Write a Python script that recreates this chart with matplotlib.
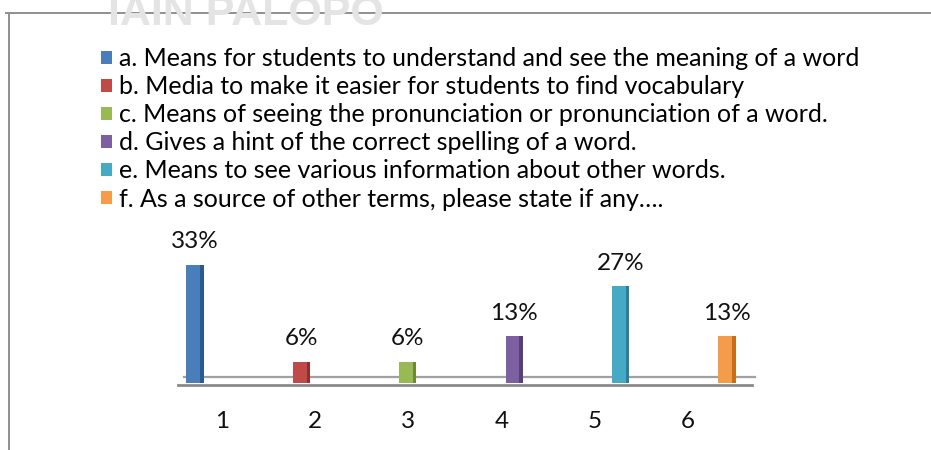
import matplotlib
matplotlib.use("Agg")
import matplotlib.pyplot as plt
from matplotlib.patches import Patch
from matplotlib.lines import Line2D

plt.rcParams['font.family'] = ['Lato', 'DejaVu Sans']

categories = ["1", "2", "3", "4", "5", "6"]
values = [33, 6, 6, 13, 27, 13]
value_labels = ["33%", "6%", "6%", "13%", "27%", "13%"]
legend_labels = [
    "a. Means for students to understand and see the meaning of a word",
    "b. Media to make it easier for students to find vocabulary",
    "c. Means of seeing the pronunciation or pronunciation of a word.",
    "d. Gives a hint of the correct spelling of a word.",
    "e. Means to see various information about other words.",
    "f. As a source of other terms, please state if any\u2026.",
]
colors = ["#4a7ebb", "#be4b48", "#98b954", "#7d60a0", "#46aac5", "#f49c49"]
dark = ["#2c5a8f", "#8e2f2c", "#6d8a33", "#573f78", "#2a7f96", "#c56e1e"]

W, H = 931, 450
fig = plt.figure(figsize=(W / 100, H / 100), dpi=100)

def px_rect(l, t, r, b):
    return [l / W, 1 - b / H, (r - l) / W, (b - t) / H]

# watermark (cut off at the top edge as in the reference)
fig.text(246 / W, 1 - 25 / H, "IAIN PALOPO", ha='center', va='baseline',
         fontsize=31, fontweight='bold', color='#e4e4e4',
         family=['Liberation Sans', 'DejaVu Sans'])

# frame
fig.add_artist(Line2D([6 / W, 1], [1 - 13 / H, 1 - 13 / H], color='#8f8f8f', lw=1.4))
fig.add_artist(Line2D([9 / W, 9 / W], [1 - 13 / H, 0], color='#8f8f8f', lw=1.4))

# bar axes: x=1 -> 195px, x=6 -> 727px ; y=0 -> 383px, 1% -> 3.58px
ux = (727 - 195) / 5
left = 195 - 0.5 * ux
right = 727 + 0.5 * ux
uy = 3.58
ax = fig.add_axes(px_rect(left, 383 - 40 * uy, right, 383))
ax.set_xlim(0.5, 6.5)
ax.set_ylim(0, 40)
ax.axis('off')

xs = list(range(1, len(values) + 1))
bw = 0.16
ax.bar(xs, values, width=bw, color=colors, zorder=3, linewidth=0)
ax.bar([x + bw * 0.40 for x in xs], values, width=bw * 0.2, color=dark, zorder=4, linewidth=0)

# floor (thin 3D slab)
fl0 = (178 - left) / (right - left)
fl1 = (752 - left) / (right - left)
ax.axhline(1.7, xmin=fl0 + 0.01, xmax=fl1 + 0.005, color='#a0a0a0', lw=1.6, zorder=2)
ax.axhline(-0.6, xmin=fl0, xmax=fl1, color='#8a8a8a', lw=2.0, zorder=2, clip_on=False)

for x, v, lab in zip(xs, values, value_labels):
    ax.annotate(lab, (x, v), xytext=(0, 9), textcoords='offset points',
                ha='center', va='bottom', fontsize=17.5, color='#111111')

# category labels axis (perspective-shifted)
ux2 = (688 - 222) / 5
l2 = 222 - 0.5 * ux2
r2 = 688 + 0.5 * ux2
ax2 = fig.add_axes(px_rect(l2, 380, r2, 383))
ax2.set_xlim(0.5, 6.5)
ax2.set_xticks(xs)
ax2.set_xticklabels(categories, fontsize=17.5, color='#111111')
ax2.set_yticks([])
ax2.tick_params(axis='x', length=0, pad=20)
for s in ax2.spines.values():
    s.set_visible(False)
ax2.patch.set_alpha(0)

handles = [Patch(facecolor=c, edgecolor='none') for c in colors]
fig.legend(handles, legend_labels, loc='upper left',
           bbox_to_anchor=(101 / W, 1 - 47 / H), frameon=False,
           fontsize=18.0, handlelength=0.43, handleheight=0.43,
           handletextpad=0.3, labelspacing=0.205, borderpad=0, borderaxespad=0)

fig.savefig("out.png", dpi=100, facecolor='white')
